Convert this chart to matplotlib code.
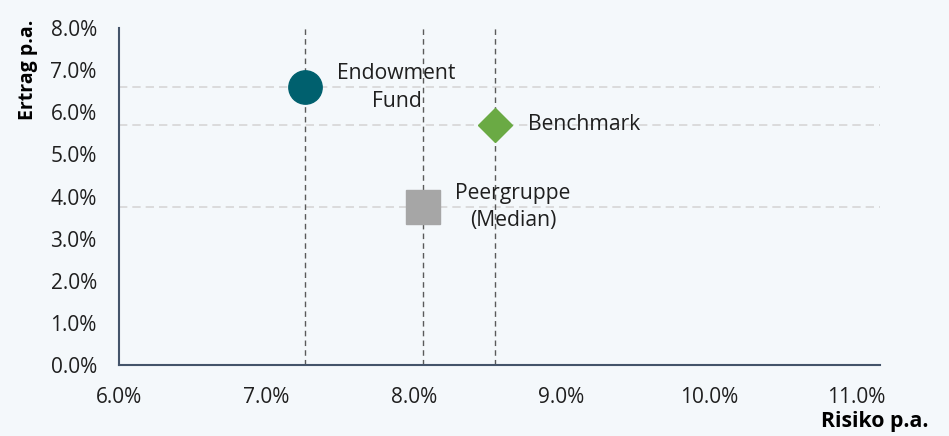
import matplotlib
matplotlib.use("Agg")
import matplotlib.pyplot as plt
from matplotlib.ticker import FuncFormatter

# data (in %)
names = ["Endowment\nFund", "Benchmark", "Peergruppe\n(Median)"]
risk = [7.26, 8.55, 8.06]
ret = [6.59, 5.70, 3.75]
colors = ["#00606E", "#6AAA44", "#A6A6A6"]
markers = ["o", "D", "s"]
sizes = [24, 17, 24]
label_offsets = [(66, 0), (24, 0), (65, 0)]
label_ha = ["center", "left", "center"]

x_ticks = [6, 7, 8, 9, 10, 11]
y_ticks = [0, 1, 2, 3, 4, 5, 6, 7, 8]

bg = "#F4F8FB"
plt.rcParams["font.family"] = ["Open Sans", "DejaVu Sans"]

fig = plt.figure(figsize=(9.49, 4.36), dpi=100, facecolor=bg)
ax = fig.add_axes([0.1254, 0.1628, 0.802, 0.773], facecolor=bg)

ax.set_xlim(6, 11.16)
ax.set_ylim(0, 8)

# reference lines through each point
for x, y in zip(risk, ret):
    ax.axhline(y, color="#D6D6D6", lw=1.2, dashes=(5, 3), zorder=1)
    ax.plot([x, x], [0, 8], color="#5A5A5A", lw=1.0, dashes=(4, 3), zorder=2)

for n, x, y, c, m, s, off, ha in zip(names, risk, ret, colors, markers, sizes,
                                     label_offsets, label_ha):
    ax.plot(x, y, marker=m, markersize=s, color=c, linestyle="none", zorder=3)
    ax.annotate(n, (x, y), xytext=off, textcoords="offset points",
                ha=ha, va="center", fontsize=15.2, color="#1F1F1F",
                linespacing=1.4, zorder=4)

ax.set_xticks(x_ticks)
ax.set_yticks(y_ticks)
ax.xaxis.set_major_formatter(FuncFormatter(lambda v, p: f"{v:.1f}%"))
ax.yaxis.set_major_formatter(FuncFormatter(lambda v, p: f"{v:.1f}%"))
ax.tick_params(axis="both", length=0, labelsize=15, labelcolor="#1F1F1F")
ax.tick_params(axis="x", pad=16)
ax.tick_params(axis="y", pad=16)

for side in ["top", "right"]:
    ax.spines[side].set_visible(False)
for side in ["left", "bottom"]:
    ax.spines[side].set_color("#44546A")
    ax.spines[side].set_linewidth(1.5)

fig.text(0.978, 0.033, "Risiko p.a.", ha="right", va="center",
         fontsize=15.3, fontweight="bold", color="#000000")
fig.text(0.03, 0.955, "Ertrag p.a.", ha="center", va="top", rotation=90,
         fontsize=14, fontweight="bold", color="#000000")

fig.savefig("out.png", dpi=100, facecolor=bg)
